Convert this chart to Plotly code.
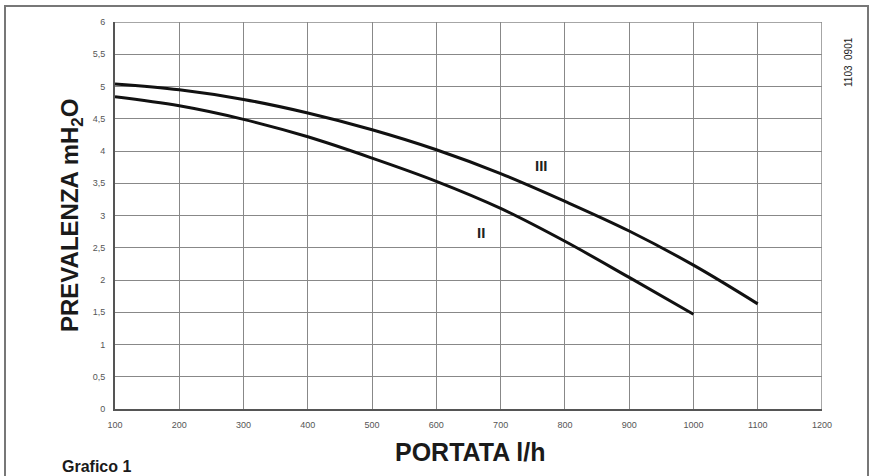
import plotly.graph_objects as go

# Data
flow_II = [100, 200, 300, 400, 500, 600, 700, 800, 900, 1000]
head_II = [4.84, 4.70, 4.49, 4.22, 3.89, 3.53, 3.11, 2.60, 2.04, 1.47]
flow_III = [100, 200, 300, 400, 500, 600, 700, 800, 900, 1000, 1100]
head_III = [5.04, 4.95, 4.80, 4.59, 4.33, 4.02, 3.65, 3.22, 2.76, 2.23, 1.63]

x_ticks = [100, 200, 300, 400, 500, 600, 700, 800, 900, 1000, 1100, 1200]
x_ticktext = ["100", "200", "300", "400", "500", "600", "700", "800", "900", "1000", "1100", "1200"]
y_ticks = [0, 0.5, 1, 1.5, 2, 2.5, 3, 3.5, 4, 4.5, 5, 5.5, 6]
y_ticktext = ["0", "0,5", "1", "1,5", "2", "2,5", "3", "3,5", "4", "4,5", "5", "5,5", "6"]

W, H = 871, 476
L, R, T, B = 115, 49, 22, 67
pw, ph = W - L - R, H - T - B

def px(x):
    return (x - L) / pw

def py(y):
    return (H - B - y) / ph

FONT = "Liberation Sans, Arial"

fig = go.Figure()
for xs, ys in [(flow_II, head_II), (flow_III, head_III)]:
    fig.add_trace(go.Scatter(x=xs, y=ys, mode="lines",
                             line=dict(color="#111111", width=3, shape="spline", smoothing=1.0),
                             showlegend=False, hoverinfo="skip"))

fig.add_annotation(x=763, y=3.77, text="<b>III</b>", showarrow=False,
                   xanchor="center", yanchor="middle",
                   font=dict(size=15, color="#222222", family=FONT))
fig.add_annotation(x=669, y=2.74, text="<b>II</b>", showarrow=False,
                   xanchor="center", yanchor="middle",
                   font=dict(size=15, color="#222222", family=FONT))

# axis titles & texts
fig.add_annotation(xref="paper", yref="paper", x=px(470), y=py(452), text="<b>PORTATA l/h</b>",
                   xanchor="center", yanchor="middle",
                   showarrow=False, font=dict(size=25, color="#1a1a1a", family=FONT))
fig.add_annotation(xref="paper", yref="paper", x=px(72), y=py(216), text="<b>PREVALENZA mH<sub>2</sub>O</b>",
                   xanchor="center", yanchor="middle",
                   textangle=-90, showarrow=False,
                   font=dict(size=24, color="#1a1a1a", family=FONT))
fig.add_annotation(xref="paper", yref="paper", x=px(60), y=py(466), text="<b>Grafico 1</b>",
                   xanchor="left", yanchor="middle", showarrow=False,
                   font=dict(size=16, color="#1a1a1a", family=FONT))
fig.add_annotation(xref="paper", yref="paper", x=px(848), y=py(62), text="1103  0901",
                   xanchor="center", yanchor="middle",
                   textangle=-90, showarrow=False,
                   font=dict(size=10, color="#1a1a1a", family=FONT))

# outer border
fig.add_shape(type="rect", xref="paper", yref="paper",
              x0=px(5), x1=px(868), y0=py(485), y1=py(6),
              line=dict(color="#777777", width=2), fillcolor="rgba(0,0,0,0)", layer="below")

fig.update_xaxes(range=[100, 1200], tickvals=x_ticks, ticktext=x_ticktext,
                 showgrid=True, gridcolor="#888888", gridwidth=1,
                 showline=True, linecolor="#555555", linewidth=2, mirror=False,
                 ticks="", ticklabelstandoff=6, zeroline=False,
                 tickfont=dict(size=9, color="#555555", family=FONT))
fig.update_yaxes(range=[0, 6], tickvals=y_ticks, ticktext=y_ticktext,
                 showgrid=True, gridcolor="#888888", gridwidth=1,
                 showline=True, linecolor="#555555", linewidth=2, mirror=False,
                 ticks="", ticklabelstandoff=6, zeroline=False,
                 tickfont=dict(size=9, color="#555555", family=FONT))

# right and top frame lines (grid at 1200 and 6)
fig.add_shape(type="line", xref="x", yref="y", x0=1200, x1=1200, y0=0, y1=6,
              line=dict(color="#888888", width=1.5))
fig.add_shape(type="line", xref="x", yref="y", x0=100, x1=1200, y0=6, y1=6,
              line=dict(color="#888888", width=1.5))

fig.update_layout(width=W, height=H, margin=dict(l=L, r=R, t=T, b=B),
                  paper_bgcolor="white", plot_bgcolor="white")

fig.write_html("out.html")
